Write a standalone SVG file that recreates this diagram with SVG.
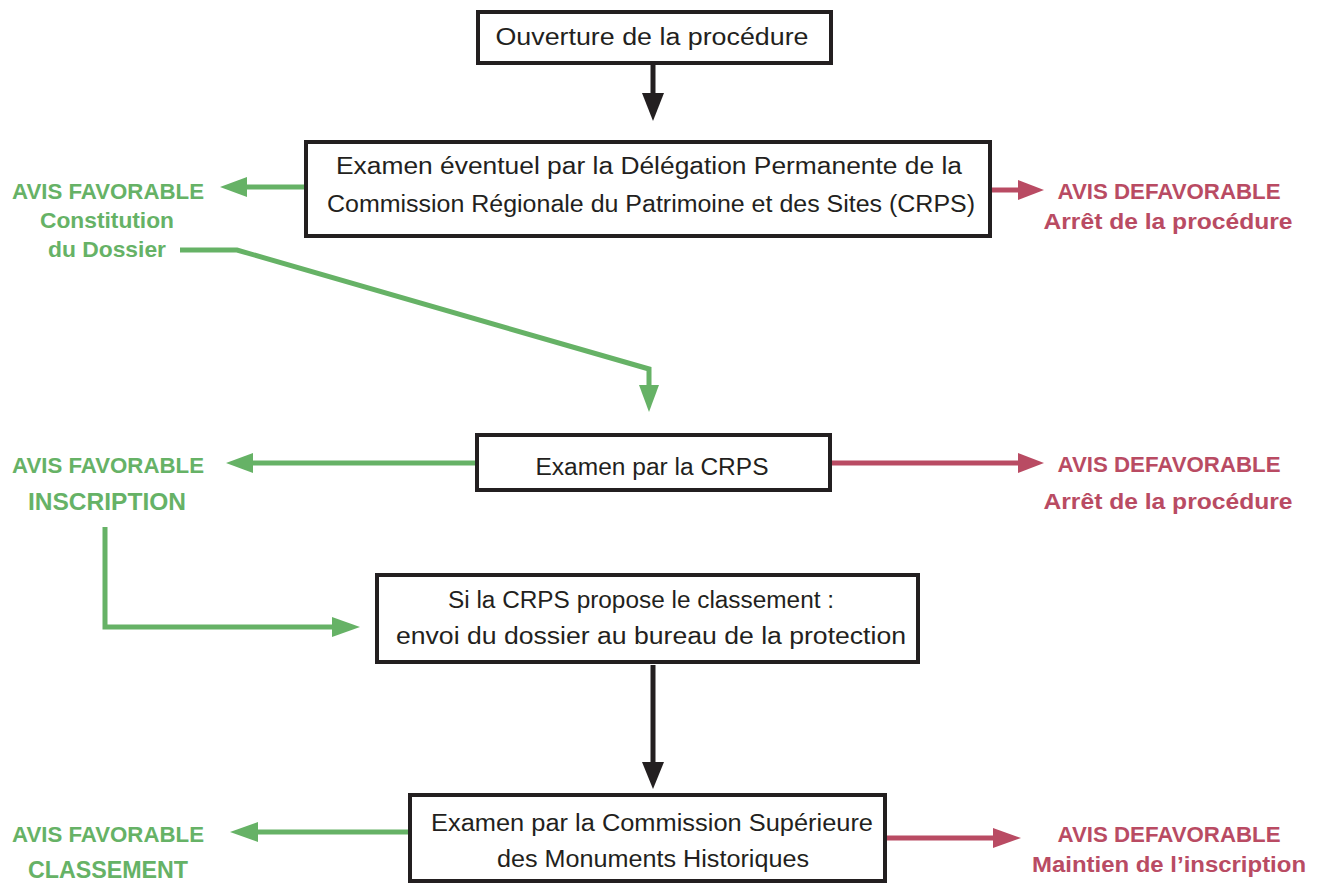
<svg xmlns="http://www.w3.org/2000/svg" width="1318" height="884" viewBox="0 0 1318 884">
<style>
.box{fill:#fff;stroke:#231f20;stroke-width:4}
.t{font-family:"Liberation Sans",Arial,sans-serif;font-size:23px;fill:#231f20;text-anchor:middle}
.g{font-family:"Liberation Sans",Arial,sans-serif;font-size:22px;font-weight:bold;fill:#66b266;text-anchor:middle}
.r{font-family:"Liberation Sans",Arial,sans-serif;font-size:22px;font-weight:bold;fill:#b94b63;text-anchor:middle}
.gl{fill:none;stroke:#66b266;stroke-width:5}
.rl{fill:none;stroke:#b94b63;stroke-width:5}
.bl{fill:none;stroke:#231f20;stroke-width:5}
</style>
<rect width="1318" height="884" fill="#fff"/>
<g id="connectors">
<line class="bl" x1="653" y1="64" x2="653" y2="95"/>
<polygon points="642,93 664,93 653,121" fill="#231f20"/>
<line class="gl" x1="305" y1="187" x2="245" y2="187"/>
<polygon points="247,177 247,197 220,187" fill="#66b266"/>
<line class="rl" x1="991" y1="190" x2="1020" y2="190"/>
<polygon points="1018,180 1018,200 1044,190" fill="#b94b63"/>
<polyline class="gl" points="180,250 237,250 649,369 649,388"/>
<polygon points="639,385 659,385 649,412" fill="#66b266"/>
<line class="gl" x1="476" y1="463" x2="250" y2="463"/>
<polygon points="253,453 253,473 226,463" fill="#66b266"/>
<line class="rl" x1="831" y1="463" x2="1020" y2="463"/>
<polygon points="1018,453 1018,473 1044,463" fill="#b94b63"/>
<polyline class="gl" points="105,527 105,627 335,627"/>
<polygon points="332,617 332,637 360,627" fill="#66b266"/>
<line class="bl" x1="653" y1="665" x2="653" y2="765"/>
<polygon points="642,762 664,762 653,789" fill="#231f20"/>
<line class="gl" x1="409" y1="832" x2="255" y2="832"/>
<polygon points="258,822 258,842 230,832" fill="#66b266"/>
<line class="rl" x1="886" y1="838" x2="996" y2="838"/>
<polygon points="993,828 993,848 1021,838" fill="#b94b63"/>
</g>
<g id="n1">
<rect class="box" x="478" y="12" width="353" height="51"/>
<text class="t" x="652" y="45" textLength="313" lengthAdjust="spacingAndGlyphs">Ouverture de la procédure</text>
</g>
<g id="n2">
<rect class="box" x="306" y="142" width="684" height="94"/>
<text class="t" x="649" y="174" textLength="626" lengthAdjust="spacingAndGlyphs">Examen éventuel par la Délégation Permanente de la</text>
<text class="t" x="651" y="212" textLength="648" lengthAdjust="spacingAndGlyphs">Commission Régionale du Patrimoine et des Sites (CRPS)</text>
</g>
<g id="n3">
<rect class="box" x="477" y="435" width="353" height="55"/>
<text class="t" x="652" y="475" textLength="233" lengthAdjust="spacingAndGlyphs">Examen par la CRPS</text>
</g>
<g id="n4">
<rect class="box" x="377" y="575" width="541" height="87"/>
<text class="t" x="641" y="608" textLength="386" lengthAdjust="spacingAndGlyphs">Si la CRPS propose le classement :</text>
<text class="t" x="651" y="644" textLength="510" lengthAdjust="spacingAndGlyphs">envoi du dossier au bureau de la protection</text>
</g>
<g id="n5">
<rect class="box" x="410" y="795" width="475" height="86"/>
<text class="t" x="652" y="831" textLength="442" lengthAdjust="spacingAndGlyphs">Examen par la Commission Supérieure</text>
<text class="t" x="653" y="867" textLength="312" lengthAdjust="spacingAndGlyphs">des Monuments Historiques</text>
</g>
<g id="fav1">
<text class="g" x="108" y="199" textLength="192" lengthAdjust="spacingAndGlyphs">AVIS FAVORABLE</text>
<text class="g" x="107" y="228" textLength="134" lengthAdjust="spacingAndGlyphs">Constitution</text>
<text class="g" x="107" y="257" textLength="118" lengthAdjust="spacingAndGlyphs">du Dossier</text>
</g>
<g id="def1">
<text class="r" x="1169" y="199" textLength="223" lengthAdjust="spacingAndGlyphs">AVIS DEFAVORABLE</text>
<text class="r" x="1168" y="229" textLength="249" lengthAdjust="spacingAndGlyphs">Arrêt de la procédure</text>
</g>
<g id="fav2">
<text class="g" x="108" y="473" textLength="192" lengthAdjust="spacingAndGlyphs">AVIS FAVORABLE</text>
<text class="g" x="107" y="510" style="font-size:24px" textLength="158" lengthAdjust="spacingAndGlyphs">INSCRIPTION</text>
</g>
<g id="def2">
<text class="r" x="1169" y="472" textLength="223" lengthAdjust="spacingAndGlyphs">AVIS DEFAVORABLE</text>
<text class="r" x="1168" y="509" textLength="249" lengthAdjust="spacingAndGlyphs">Arrêt de la procédure</text>
</g>
<g id="fav3">
<text class="g" x="108" y="842" textLength="192" lengthAdjust="spacingAndGlyphs">AVIS FAVORABLE</text>
<text class="g" x="108" y="878" style="font-size:24px" textLength="160" lengthAdjust="spacingAndGlyphs">CLASSEMENT</text>
</g>
<g id="def3">
<text class="r" x="1169" y="842" textLength="223" lengthAdjust="spacingAndGlyphs">AVIS DEFAVORABLE</text>
<text class="r" x="1169" y="872" textLength="274" lengthAdjust="spacingAndGlyphs">Maintien de l’inscription</text>
</g>
</svg>
